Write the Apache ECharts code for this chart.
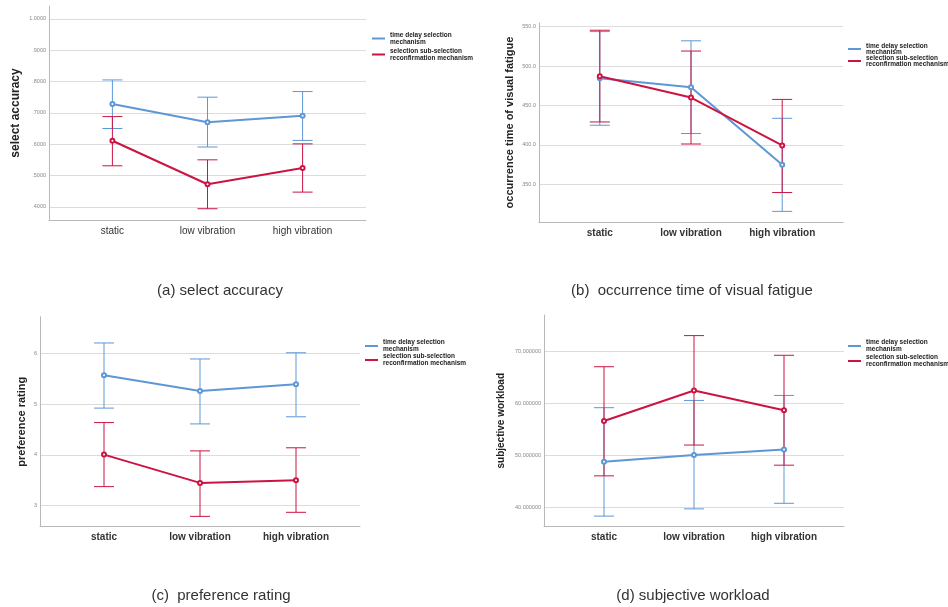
<!DOCTYPE html>
<html><head><meta charset="utf-8">
<script src="https://cdn.jsdelivr.net/npm/echarts@6/dist/echarts.min.js"></script>
<style>html,body{margin:0;padding:0;background:#fff}#c{width:948px;height:607px}</style>
</head><body><div id="c"></div>
<script>
// ---------- data ----------
const categories = ['static', 'low vibration', 'high vibration'];
const seriesNames = ['time delay selection\nmechanism', 'selection sub-selection\nreconfirmation mechanism'];

// (a) select accuracy
const accDelayMean = [0.728, 0.670, 0.691];
const accDelayLow  = [0.650, 0.591, 0.612];
const accDelayHigh = [0.805, 0.750, 0.768];
const accSubMean   = [0.611, 0.472, 0.524];
const accSubLow    = [0.531, 0.394, 0.447];
const accSubHigh   = [0.688, 0.550, 0.601];
const accTicks     = [0.4, 0.5, 0.6, 0.7, 0.8, 0.9, 1.0];

// (b) occurrence time of visual fatigue
const fatDelayMean = [484.4, 473.0, 374.7];
const fatDelayLow  = [424.8, 414.3, 315.5];
const fatDelayHigh = [543.7, 532.0, 433.6];
const fatSubMean   = [487.0, 460.0, 399.2];
const fatSubLow    = [429.0, 401.0, 339.4];
const fatSubHigh   = [545.4, 519.0, 457.6];
const fatTicks     = [350, 400, 450, 500, 550];

// (c) preference rating
const prefDelayMean = [5.567, 5.258, 5.390];
const prefDelayLow  = [4.921, 4.610, 4.750];
const prefDelayHigh = [6.203, 5.888, 6.010];
const prefSubMean   = [4.006, 3.449, 3.500];
const prefSubLow    = [3.376, 2.790, 2.870];
const prefSubHigh   = [4.636, 4.079, 4.140];
const prefTicks     = [3, 4, 5, 6];

// (d) subjective workload
const workDelayMean = [48.77, 50.06, 51.16];
const workDelayLow  = [38.30, 39.70, 40.77];
const workDelayHigh = [59.20, 60.60, 61.56];
const workSubMean   = [56.64, 62.52, 58.70];
const workSubLow    = [46.06, 52.00, 48.12];
const workSubHigh   = [67.10, 73.10, 69.30];
const workTicks     = [40, 50, 60, 70];

const subtitles = ['(a) select accuracy', '(b)  occurrence time of visual fatigue', '(c)  preference rating', '(d) subjective workload'];

// ---------- layout ----------
const BLUE = '#5e97d6';
const RED = '#cc1442';
const FONT = '"Liberation Sans", Arial, sans-serif';

const panels = [
  { grid: {left: 49, top: 6, width: 317, height: 214}, min: 0.358, max: 1.041, ticks: accTicks,
    fmt: v => { const s = v.toFixed(4); return s.startsWith('0') ? s.slice(1) : s; },
    name: 'select accuracy', nameGap: 27, nameSize: 12, catWeight: 'normal',
    legend: {left: 367, top: 26.5, gap: 2, lh: 7},
    d: [accDelayMean, accDelayLow, accDelayHigh], s: [accSubMean, accSubLow, accSubHigh],
    sub: {x: 220, y: 291} },
  { grid: {left: 539, top: 23, width: 304, height: 199}, min: 302, max: 554.6, ticks: fatTicks,
    fmt: v => v.toFixed(1),
    name: 'occurrence time of visual fatigue', nameGap: 24, nameSize: 11, catWeight: 'bold',
    legend: {left: 843, top: 37.5, gap: -1, lh: 6},
    d: [fatDelayMean, fatDelayLow, fatDelayHigh], s: [fatSubMean, fatSubLow, fatSubHigh],
    sub: {x: 692, y: 291} },
  { grid: {left: 40, top: 316.7, width: 320, height: 210}, min: 2.587, max: 6.72, ticks: prefTicks,
    fmt: v => String(v),
    name: 'preference rating', nameGap: 13, nameSize: 11, catWeight: 'bold',
    legend: {left: 360, top: 334, gap: 0, lh: 7},
    d: [prefDelayMean, prefDelayLow, prefDelayHigh], s: [prefSubMean, prefSubLow, prefSubHigh],
    sub: {x: 221, y: 596} },
  { grid: {left: 544, top: 315, width: 300, height: 211.5}, min: 36.3, max: 77.07, ticks: workTicks,
    fmt: v => v.toFixed(6),
    name: 'subjective workload', nameGap: 38, nameSize: 10, catWeight: 'bold',
    legend: {left: 843, top: 334, gap: 1, lh: 7},
    d: [workDelayMean, workDelayLow, workDelayHigh], s: [workSubMean, workSubLow, workSubHigh],
    sub: {x: 693, y: 596} }
];

function errRender(color) {
  return function (params, api) {
    const x = api.value(0), lo = api.value(1), hi = api.value(2);
    const pH = api.coord([x, hi]), pL = api.coord([x, lo]);
    const hw = 10;
    const st = {stroke: color, lineWidth: 1};
    return {type: 'group', children: [
      {type: 'line', shape: {x1: pH[0], y1: pH[1], x2: pL[0], y2: pL[1]}, style: st},
      {type: 'line', shape: {x1: pH[0] - hw, y1: pH[1], x2: pH[0] + hw, y2: pH[1]}, style: st},
      {type: 'line', shape: {x1: pL[0] - hw, y1: pL[1], x2: pL[0] + hw, y2: pL[1]}, style: st}
    ]};
  };
}

const option = {
  animation: false,
  backgroundColor: '#fff',
  textStyle: {fontFamily: FONT},
  grid: [], xAxis: [], yAxis: [], legend: [], series: [],
  graphic: []
};

panels.forEach((p, i) => {
  option.grid.push(Object.assign({containLabel: false}, p.grid));
  option.xAxis.push({
    type: 'value', gridIndex: i, min: -2 / 3, max: 8 / 3,
    axisLine: {show: true, onZero: false, lineStyle: {color: '#b8b8b8', width: 1}},
    axisTick: {show: false, customValues: [0, 1, 2]},
    splitLine: {show: false},
    axisLabel: {customValues: [0, 1, 2], formatter: v => categories[Math.round(v)] || '',
      color: '#333', fontSize: 10, fontWeight: p.catWeight, margin: 6, fontFamily: FONT}
  });
  option.yAxis.push({
    type: 'value', gridIndex: i, min: p.min, max: p.max,
    name: p.name, nameLocation: 'middle', nameGap: p.nameGap,
    nameTextStyle: {fontSize: p.nameSize, fontWeight: 'bold', color: '#222', fontFamily: FONT},
    axisLine: {show: true, onZero: false, lineStyle: {color: '#b8b8b8', width: 1}},
    axisTick: {show: false, customValues: p.ticks},
    splitLine: {show: true, lineStyle: {color: '#dcdcdc', width: 1}},
    axisLabel: {customValues: p.ticks, formatter: p.fmt, color: '#888', fontSize: 5.5, margin: 3, fontFamily: FONT}
  });
  option.legend.push({
    orient: 'vertical', left: p.legend.left, top: p.legend.top,
    data: seriesNames, icon: 'rect', itemWidth: 13, itemHeight: 2,
    itemGap: p.legend.gap, itemTextGap: 2, selectedMode: false,
    textStyle: {fontSize: 6.5, lineHeight: p.legend.lh, fontWeight: 'bold', color: '#222', fontFamily: FONT}
  });
  const groups = [[p.d, BLUE, seriesNames[0]], [p.s, RED, seriesNames[1]]];
  groups.forEach(([arr, color, nm]) => {
    const [mean, lo, hi] = arr;
    option.series.push({
      type: 'custom', name: 'err', xAxisIndex: i, yAxisIndex: i,
      renderItem: errRender(color), silent: true,
      encode: {x: 0, y: [1, 2]},
      data: mean.map((m, k) => [k, lo[k], hi[k]])
    });
    option.series.push({
      type: 'line', name: nm, xAxisIndex: i, yAxisIndex: i,
      data: mean.map((m, k) => [k, m]),
      color: color, symbol: 'emptyCircle', symbolSize: 4,
      lineStyle: {color: color, width: 2}, itemStyle: {color: color, borderWidth: 1},
      z: 3
    });
  });
  option.graphic.push({
    type: 'text', x: p.sub.x, y: p.sub.y,
    style: {text: subtitles[i], fill: '#333', font: '15px ' + FONT, textAlign: 'center', textVerticalAlign: 'middle'}
  });
});

const chart = echarts.init(document.getElementById('c'), null, {renderer: 'canvas'});
chart.setOption(option);
</script>
</body></html>
